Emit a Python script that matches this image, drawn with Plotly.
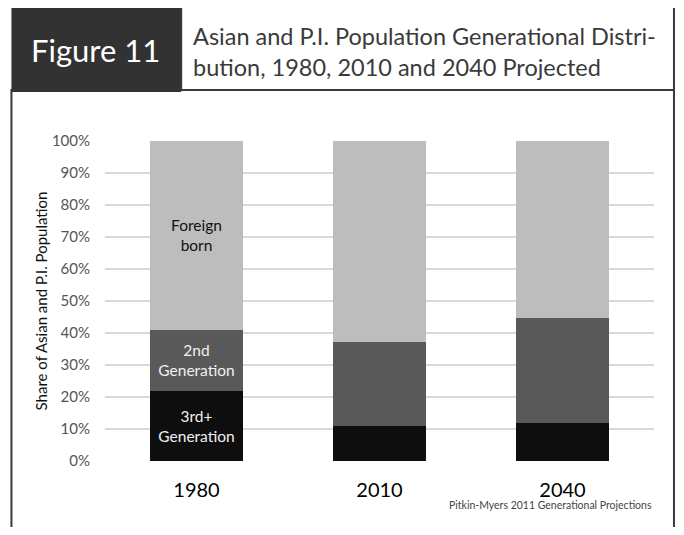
import plotly.graph_objects as go

years = ["1980", "2010", "2040"]
third_plus = [22, 11, 12]
second_gen = [19, 26.2, 32.7]
foreign_born = [59, 62.8, 55.3]
third_labels = ["3rd+<br>Generation", "", ""]
second_labels = ["2nd<br>Generation", "", ""]
foreign_labels = ["Foreign<br>born", "", ""]
y_ticks = list(range(0, 101, 10))
y_tick_text = [f"{v}%" for v in y_ticks]

OFF = 8  # page body margin offset
W, H = 684 - 2 * OFF, 535 - 2 * OFF
# plot area in screen coordinates
L, R, T, B = 104.7, 654.5, 141, 461
FONT = "Lato, 'Open Sans', sans-serif"


def px(x):
    return (x - L) / (R - L)


def py(y):
    return (B - y) / (B - T)


fig = go.Figure()
fig.add_trace(go.Bar(x=years, y=third_plus, name="3rd+ Generation",
                     marker=dict(color="#0e0e0e", line=dict(width=0)),
                     text=third_labels, textposition="inside", insidetextanchor="middle",
                     textfont=dict(color="#f0f0f0", size=15.5, family=FONT),
                     constraintext="none", width=0.51, hoverinfo="skip"))
fig.add_trace(go.Bar(x=years, y=second_gen, name="2nd Generation",
                     marker=dict(color="#595959", line=dict(width=0)),
                     text=second_labels, textposition="inside", insidetextanchor="middle",
                     textfont=dict(color="#f0f0f0", size=15.5, family=FONT),
                     constraintext="none", width=0.51, hoverinfo="skip"))
fig.add_trace(go.Bar(x=years, y=foreign_born, name="Foreign born",
                     marker=dict(color="#bdbdbd", line=dict(width=0)),
                     text=foreign_labels, textposition="inside", insidetextanchor="middle",
                     textfont=dict(color="#111111", size=15.5, family=FONT),
                     constraintext="none", width=0.51, hoverinfo="skip"))

shapes = [
    dict(type="rect", xref="paper", yref="paper", x0=px(11), x1=px(181), y0=py(7), y1=py(92),
         fillcolor="#323232", line=dict(width=0), layer="above"),
    dict(type="rect", xref="paper", yref="paper", x0=px(181), x1=px(674.5), y0=py(7), y1=py(90),
         fillcolor="white", line=dict(width=2, color="#3a3a3a"), layer="above"),
    dict(type="rect", xref="paper", yref="paper", x0=px(11), x1=px(674.5), y0=py(90), y1=py(560),
         fillcolor="rgba(0,0,0,0)", line=dict(width=2, color="#3a3a3a"), layer="below"),
]

annotations = [
    dict(text="Figure 11", xref="paper", yref="paper", x=px(95), y=py(50),
         xanchor="center", yanchor="middle", showarrow=False,
         font=dict(family=FONT, size=31, color="white")),
    dict(text="Asian and P.I. Population Generational Distri-<br>bution, 1980, 2010 and 2040 Projected",
         xref="paper", yref="paper", x=px(191), y=py(51), xanchor="left", yanchor="middle",
         align="left", showarrow=False, font=dict(family=FONT, size=23.5, color="#3a3a3a")),
    dict(text="Pitkin-Myers 2011 Generational Projections", xref="paper", yref="paper",
         x=px(655), y=py(505), xanchor="right", yanchor="middle", showarrow=False,
         font=dict(family=FONT, size=10.5, color="#444444")),
]

fig.update_layout(
    width=W, height=H, barmode="stack", showlegend=False,
    paper_bgcolor="white", plot_bgcolor="white",
    margin=dict(l=L - OFF, r=W - (R - OFF), t=T - OFF, b=H - (B - OFF), pad=0),
    font=dict(family=FONT),
    shapes=shapes, annotations=annotations,
    xaxis=dict(type="category", range=[-0.5, 2.5], showgrid=False, showline=False,
               ticks="", tickfont=dict(size=20, color="#000000", family=FONT),
               ticklabelstandoff=15),
    yaxis=dict(range=[0, 100], tickvals=y_ticks, ticktext=y_tick_text, showgrid=True,
               gridcolor="#d9d9d9", gridwidth=1.5, zeroline=False, showline=False, ticks="",
               tickfont=dict(size=15, color="#555555", family=FONT), ticklabelstandoff=14,
               title=dict(text="Share of Asian and P.I. Population", standoff=0,
                          font=dict(size=15, color="#111111", family=FONT))),
)

fig.write_html("out.html")
